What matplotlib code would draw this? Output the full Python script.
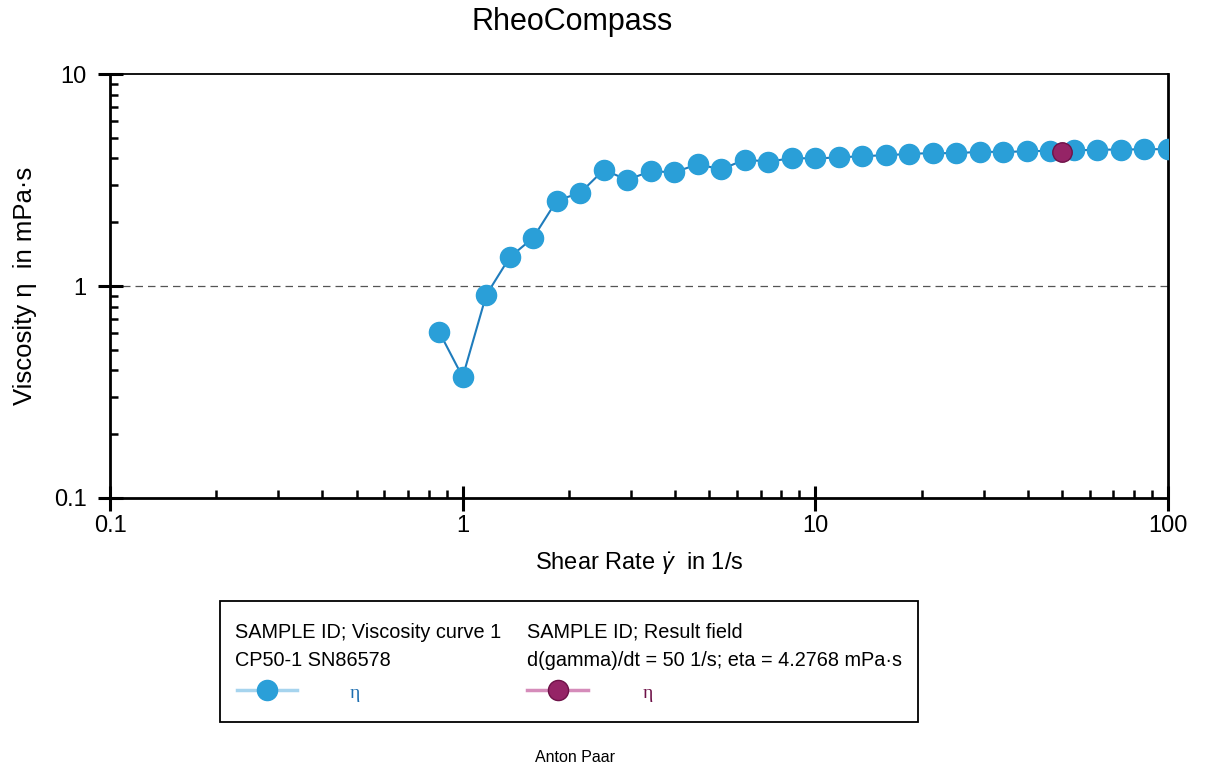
import matplotlib
matplotlib.use("Agg")
import matplotlib.pyplot as plt
from matplotlib.lines import Line2D
from matplotlib.patches import Rectangle
from matplotlib.ticker import LogLocator, FixedLocator, FixedFormatter, NullFormatter

plt.rcParams['font.family'] = ['Liberation Sans', 'DejaVu Sans']
plt.rcParams['mathtext.fontset'] = 'custom'
plt.rcParams['mathtext.rm'] = 'Liberation Sans'
plt.rcParams['mathtext.it'] = 'Liberation Sans:italic'

# viscosity curve 1 (shear rate 1/s, viscosity mPa·s)
shear_rate = [0.858, 1.0, 1.166, 1.359, 1.585, 1.848, 2.154, 2.512, 2.929, 3.415,
              3.981, 4.642, 5.412, 6.310, 7.356, 8.577, 10.0, 11.66, 13.59, 15.85,
              18.48, 21.54, 25.12, 29.29, 34.15, 39.81, 46.42, 54.12, 63.10, 73.56,
              85.77, 100.0]
viscosity = [0.607, 0.372, 0.906, 1.365, 1.69, 2.53, 2.75, 3.53, 3.17, 3.48,
             3.44, 3.75, 3.55, 3.95, 3.86, 4.01, 4.00, 4.04, 4.10, 4.14,
             4.20, 4.24, 4.23, 4.30, 4.29, 4.32, 4.35, 4.36, 4.40, 4.40,
             4.42, 4.42]

# result field
result_rate = [50.0]
result_eta = [4.2768]

x_ticks = [0.1, 1, 10, 100]
x_labels = ['0.1', '1', '10', '100']
y_ticks = [0.1, 1, 10]
y_labels = ['0.1', '1', '10']

blue = '#2a9fd8'
blue_line = '#1f7cbc'
magenta = '#952466'


def main():
    fig = plt.figure(figsize=(12.05, 7.68), dpi=100)
    ax = fig.add_axes([0.0913, 0.3516, 0.8780, 0.5520])

    ax.axhline(1.0, color='#555555', linestyle=(0, (6, 4)), linewidth=0.9, zorder=1)
    ax.plot(shear_rate, viscosity, '-o', color=blue_line, linewidth=1.5,
            markerfacecolor=blue, markeredgecolor=blue, markersize=14.5, zorder=3)
    ax.plot(result_rate, result_eta, 'o', markerfacecolor=magenta,
            markeredgecolor='#6e1248', markeredgewidth=1.0, markersize=14, zorder=4)

    ax.set_xscale('log')
    ax.set_yscale('log')
    ax.set_xlim(0.1, 100)
    ax.set_ylim(0.1, 10)

    ax.xaxis.set_major_locator(FixedLocator(x_ticks))
    ax.xaxis.set_major_formatter(FixedFormatter(x_labels))
    ax.yaxis.set_major_locator(FixedLocator(y_ticks))
    ax.yaxis.set_major_formatter(FixedFormatter(y_labels))
    ax.xaxis.set_minor_locator(LogLocator(base=10, subs=range(2, 10)))
    ax.yaxis.set_minor_locator(LogLocator(base=10, subs=range(2, 10)))
    ax.xaxis.set_minor_formatter(NullFormatter())
    ax.yaxis.set_minor_formatter(NullFormatter())

    ax.tick_params(which='major', direction='inout', length=18, width=2.2,
                   labelsize=17, colors='black')
    ax.tick_params(axis='y', which='major', pad=8)
    ax.tick_params(axis='x', which='major', pad=3)
    ax.tick_params(which='minor', direction='in', length=6, width=1.8)
    ax.tick_params(top=False, right=False)

    for side in ['left', 'bottom', 'right']:
        ax.spines[side].set_linewidth(2.0)
    ax.spines['top'].set_linewidth(1.3)

    ax.set_xlabel(r'Shear Rate $\dot{\gamma}$  in 1/s', fontsize=17, labelpad=10)
    ax.set_ylabel('Viscosity η  in mPa·s', fontsize=18.5, labelpad=12)
    fig.text(0.475, 0.971, 'RheoCompass', fontsize=22, ha='center', va='center')

    # legend box ----------------------------------------
    W, H = 1205.0, 768.0
    fig.patches.append(Rectangle((220 / W, 1 - 722 / H), 698 / W, 121 / H,
                                 transform=fig.transFigure, fill=False,
                                 edgecolor='black', linewidth=1.3))
    fs = 14.3
    fig.text(235 / W, 1 - 632 / H, 'SAMPLE ID; Viscosity curve 1', fontsize=fs, va='center')
    fig.text(235 / W, 1 - 661 / H, 'CP50-1 SN86578', fontsize=fs, va='center')
    fig.text(527 / W, 1 - 632 / H, 'SAMPLE ID; Result field', fontsize=fs, va='center')
    fig.text(527 / W, 1 - 661 / H, 'd(gamma)/dt = 50 1/s; eta = 4.2768 mPa·s',
             fontsize=fs, va='center')

    ly = 1 - 690 / H
    fig.lines.append(Line2D([237 / W, 297 / W], [ly, ly], transform=fig.transFigure,
                            color='#a6d4ee', linewidth=2.5))
    fig.lines.append(Line2D([267 / W], [ly], transform=fig.transFigure, marker='o',
                            markersize=14.5, markerfacecolor=blue, markeredgecolor=blue))
    fig.lines.append(Line2D([527 / W, 588 / W], [ly, ly], transform=fig.transFigure,
                            color='#d58cba', linewidth=2.5))
    fig.lines.append(Line2D([558 / W], [ly], transform=fig.transFigure, marker='o',
                            markersize=14.5, markerfacecolor=magenta,
                            markeredgecolor='#6e1248'))
    fig.text(355 / W, ly - 0.005, 'η', fontsize=14, va='center', ha='center',
             color='#1f6fb0', family=['Liberation Serif', 'DejaVu Serif'])
    fig.text(648 / W, ly - 0.005, 'η', fontsize=14, va='center', ha='center',
             color='#6e1248', family=['Liberation Serif', 'DejaVu Serif'])

    fig.text(575 / W, 1 - 758 / H, 'Anton Paar', fontsize=11.5, ha='center', va='center')

    fig.savefig('out.png', dpi=100)


if __name__ == "__main__":
    main()
